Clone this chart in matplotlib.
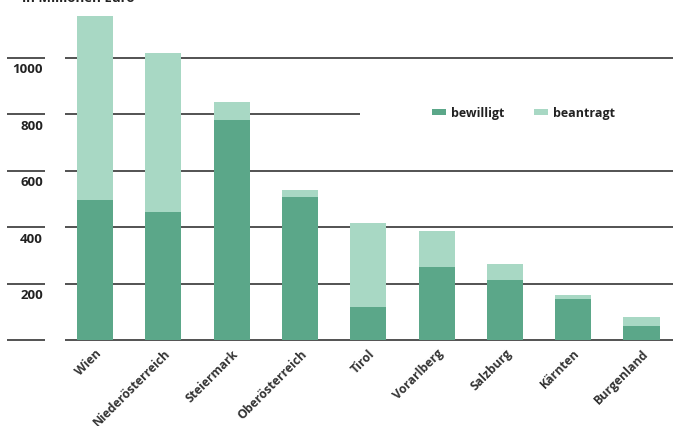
import matplotlib
matplotlib.use("Agg")
from matplotlib import pyplot as plt
from matplotlib.transforms import blended_transform_factory

bundeslaender = ["Wien", "Niederösterreich", "Steiermark", "Oberösterreich", "Tirol",
                 "Vorarlberg", "Salzburg", "Kärnten", "Burgenland"]
# Millionen Euro
beantragt = [1148, 1017, 843, 532, 415, 387, 270, 160, 82]
bewilligt = [496, 454, 780, 507, 118, 259, 213, 146, 51]
yticks = [0, 200, 400, 600, 800, 1000]

dark = "#5ba789"
light = "#a8d8c4"
linecol = "#444444"
textcol = "#222222"

plt.rcParams["font.family"] = ["Open Sans", "DejaVu Sans"]

fig = plt.figure(figsize=(6.73, 4.26), dpi=100)
ax = fig.add_axes([65 / 673, 1 - 340.3 / 426, 608 / 673, 340.3 / 426])

x = list(range(len(bundeslaender)))
# light bar = beantragt (full height), dark bar = bewilligt in front
ax.bar(x, beantragt, width=0.53, color=light, zorder=2, label="beantragt")
ax.bar(x, bewilligt, width=0.53, color=dark, zorder=3, label="bewilligt")

ax.set_xlim(-0.44, 8.46)
ax.set_ylim(0, 1204)

# gridlines (the 800 line stops before the legend)
trans = blended_transform_factory(ax.transAxes, ax.transData)
for v in yticks:
    xmax = (360 - 65) / 608 if v == 800 else 1.0
    ax.plot([0, xmax], [v, v], color=linecol, lw=1.3, transform=trans,
            zorder=1, clip_on=False, solid_capstyle="butt")
    # short line next to the tick label
    ax.plot([(7 - 65) / 608, (45 - 65) / 608], [v, v], color=linecol, lw=1.3,
            transform=trans, clip_on=False, solid_capstyle="butt")
    if v > 0:
        ax.annotate(str(v), xy=((43 - 65) / 608, v), xycoords=trans,
                    xytext=(0, -12), textcoords="offset pixels",
                    ha="right", va="center", fontsize=9.5, fontweight="bold",
                    color=textcol, annotation_clip=False)

for s in ax.spines.values():
    s.set_visible(False)
ax.set_yticks([])
ax.set_xticks(x)
ax.set_xticklabels(bundeslaender, rotation=45, ha="right", va="top",
                   rotation_mode="anchor", fontsize=8.8, fontweight="bold",
                   color="#333333")
ax.tick_params(axis="x", length=0, pad=5)

# legend
h, l = ax.get_legend_handles_labels()
leg = fig.legend(h[::-1], l[::-1], loc="center left",
                 bbox_to_anchor=(432 / 673, 1 - 113 / 426), ncol=2, frameon=False,
                 prop={"size": 9, "weight": "bold"}, handlelength=1.1,
                 handleheight=0.4, handletextpad=0.4, columnspacing=2.4,
                 borderpad=0, borderaxespad=0)
for t in leg.get_texts():
    t.set_color(textcol)

# title, cut off at the top edge as in the original
fig.text(22 / 673, 1 - 2 / 426, "in Millionen Euro", ha="left", va="baseline",
         fontsize=9.5, fontweight="bold", color=textcol)

fig.savefig("out.png", dpi=100)
